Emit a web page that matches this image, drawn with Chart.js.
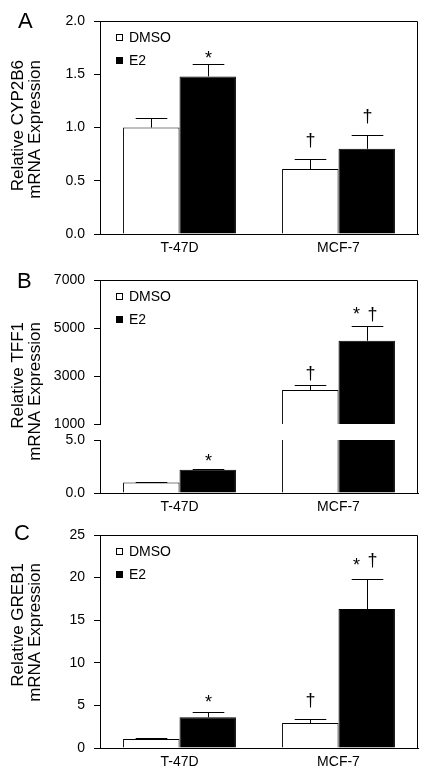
<!DOCTYPE html>
<html>
<head>
<meta charset="utf-8">
<script src="https://cdn.jsdelivr.net/npm/chart.js@4.4.1/dist/chart.umd.min.js"></script>
<style>
  body { margin: 0; background: #fff; width: 431px; height: 782px; position: relative; overflow: hidden;
         font-family: "Liberation Sans", Arial, Helvetica, sans-serif; }
  .panel { position: absolute; left: 0; width: 431px; height: 262px; }
  .letter { position: absolute; font-size: 22px; line-height: 22px; color: #000; }
</style>
</head>
<body>
<div class="panel" style="top:0"><canvas id="chartA" width="431" height="262"></canvas></div>
<div class="panel" style="top:259px"><canvas id="chartB" width="431" height="262"></canvas></div>
<div class="panel" style="top:514px"><canvas id="chartC" width="431" height="262"></canvas></div>
<div class="letter" style="left:18px;top:10px">A</div>
<div class="letter" style="left:17px;top:270px">B</div>
<div class="letter" style="left:14px;top:522px">C</div>
<script>
const FONT = "'Liberation Sans', Arial, Helvetica, sans-serif";
Chart.defaults.font.family = FONT;
Chart.defaults.color = '#000';
Chart.defaults.animation = false;

// shared
const groups = ['T-47D', 'MCF-7'];
const treatments = ['DMSO', 'E2'];
const fills = ['#ffffff', '#000000'];

// A - CYP2B6
const cypDmso = [1.00, 0.61];
const cypDmsoErr = [0.09, 0.09];
const cypE2 = [1.48, 0.80];
const cypE2Err = [0.12, 0.13];
const cypDmsoMarks = ['', '†'];
const cypE2Marks = ['*', '†'];
const cypTicks = [0, 0.5, 1.0, 1.5, 2.0];

// B - TFF1 (broken axis)
const tffDmso = [1.0, 2420];
const tffDmsoErr = [0.04, 195];
const tffE2 = [2.2, 4470];
const tffE2Err = [0.08, 610];
const tffDmsoMarks = ['', '†'];
const tffE2Marks = ['*', '*†'];
const tffLowTicks = [0, 2.5, 5.0];
const tffHighTicks = [1000, 3000, 5000, 7000];

// C - GREB1
const grebDmso = [1.05, 2.93];
const grebDmsoErr = [0.12, 0.47];
const grebE2 = [3.6, 16.3];
const grebE2Err = [0.65, 3.55];
const grebDmsoMarks = ['', '†'];
const grebE2Marks = ['*', '*†'];
const grebTicks = [0, 5, 10, 15, 20, 25];

// clip every dataset to its own y axis, then add error bars and significance marks
const errorBarPlugin = {
    id: 'errorBars',
    beforeDatasetDraw(chart, args) {
        const y = chart.scales[args.meta.yAxisID];
        const a = chart.chartArea;
        chart.ctx.save();
        chart.ctx.beginPath();
        chart.ctx.rect(a.left, y.top, a.right - a.left, y.bottom - y.top);
        chart.ctx.clip();
    },
    afterDatasetDraw(chart, args, opts) {
        const ctx = chart.ctx;
        const ds = chart.data.datasets[args.index];
        const y = chart.scales[args.meta.yAxisID];
        ctx.strokeStyle = '#000';
        ctx.fillStyle = '#000';
        ctx.lineWidth = 1;
        ctx.font = '18px ' + FONT;
        ctx.textAlign = 'center';
        ctx.textBaseline = 'alphabetic';
        args.meta.data.forEach((bar, i) => {
            const capY = Math.round(y.getPixelForValue(ds.data[i] + ds.errors[i])) + 0.5;
            const x = Math.round(bar.x) + 0.5;
            const half = bar.width * 0.28;
            ctx.beginPath();
            ctx.moveTo(x, bar.y);
            ctx.lineTo(x, capY);
            ctx.moveTo(x - half, capY);
            ctx.lineTo(x + half, capY);
            ctx.stroke();
            const m = ds.marks[i];
            if (m === '*') ctx.fillText('*', x, capY - opts.starGap);
            else if (m === '†') ctx.fillText('†', x, capY - opts.daggerGap);
            else if (m === '*†') {
                ctx.fillText('*', x - 11, capY - opts.starGap - 4);
                ctx.fillText('†', x + 5, capY - opts.daggerGap);
            }
        });
        ctx.restore();
    }
};

// top and right edges of the plot box
const framePlugin = {
    id: 'frame',
    afterDraw(chart) {
        const {ctx, chartArea: a} = chart;
        const t = Math.round(a.top) + 0.5;
        const r = Math.round(a.right) - 0.5;
        ctx.save();
        ctx.strokeStyle = '#000';
        ctx.lineWidth = 1;
        ctx.beginPath();
        ctx.moveTo(a.left - 0.5, t);
        ctx.lineTo(r, t);
        ctx.lineTo(r, a.bottom);
        ctx.stroke();
        ctx.restore();
    }
};

// legend drawn inside the plot, top left
const insideLegend = {
    id: 'insideLegend',
    afterDraw(chart, args, opts) {
        const {ctx, chartArea: a} = chart;
        const items = [];
        chart.data.datasets.forEach(ds => {
            if (!items.find(it => it.label === ds.label)) items.push(ds);
        });
        ctx.save();
        ctx.font = '14px ' + FONT;
        ctx.textBaseline = 'middle';
        ctx.textAlign = 'left';
        items.forEach((ds, i) => {
            const cy = Math.round(a.top + opts.top + i * 23);
            const bx = Math.round(a.left + 16);
            ctx.fillStyle = ds.backgroundColor;
            ctx.fillRect(bx, cy - 4, 7, 7);
            ctx.strokeStyle = '#000';
            ctx.lineWidth = 1;
            ctx.strokeRect(bx + 0.5, cy - 3.5, 6, 6);
            ctx.fillStyle = '#000';
            ctx.fillText(ds.label, a.left + 29, cy);
        });
        ctx.restore();
    }
};

// two-line rotated axis title, lines aligned at their top end
const sideTitle = {
    id: 'sideTitle',
    afterDraw(chart, args, opts) {
        const ctx = chart.ctx;
        ctx.save();
        ctx.font = '17px ' + FONT;
        ctx.fillStyle = '#000';
        ctx.textAlign = 'right';
        ctx.textBaseline = 'alphabetic';
        ctx.translate(23, opts.end);
        ctx.rotate(-Math.PI / 2);
        opts.lines.forEach((line, i) => ctx.fillText(line, 0, i * 17));
        ctx.restore();
    }
};

function barSet(idx, values, errors, marks, axisId) {
    return {
        label: treatments[idx],
        data: values,
        errors: errors,
        marks: marks,
        yAxisID: axisId,
        stack: treatments[idx],
        backgroundColor: fills[idx],
        borderColor: '#000',
        borderWidth: 1,
        borderSkipped: 'start',
        categoryPercentage: 0.71,
        barPercentage: 1.0
    };
}

function valueAxis(ticks, fmt, extra) {
    return Object.assign({
        type: 'linear',
        position: 'left',
        stacked: false,
        min: ticks[0],
        max: ticks[ticks.length - 1],
        afterBuildTicks: s => { s.ticks = ticks.map(v => ({ value: v })); },
        afterFit: s => { s.width = 100; },
        grid: { drawOnChartArea: false, drawTicks: true, tickLength: 6, color: '#000', lineWidth: 1 },
        border: { display: true, color: '#000', width: 1 },
        ticks: { padding: 9, font: { size: 14 }, color: '#000', callback: fmt }
    }, extra || {});
}

function groupAxis() {
    return {
        type: 'category',
        afterFit: s => { s.height = 28; },
        grid: { display: false, drawTicks: false },
        border: { display: true, color: '#000', width: 1 },
        ticks: { padding: 6, font: { size: 14 }, color: '#000', maxRotation: 0, autoSkip: false }
    };
}

function baseOptions(scales, titleLines, titleEnd, gaps) {
    return {
        responsive: false,
        devicePixelRatio: 1,
        animation: false,
        layout: { padding: { top: 21, right: 13, left: 0, bottom: 0 } },
        scales: scales,
        plugins: {
            legend: { display: false },
            tooltip: { enabled: false },
            errorBars: gaps,
            insideLegend: { top: 17 },
            sideTitle: { lines: titleLines, end: titleEnd }
        }
    };
}

const panelPlugins = [errorBarPlugin, framePlugin, insideLegend, sideTitle];

// Panel A
new Chart(document.getElementById('chartA'), {
    type: 'bar',
    data: {
        labels: groups,
        datasets: [
            barSet(0, cypDmso, cypDmsoErr, cypDmsoMarks, 'y'),
            barSet(1, cypE2, cypE2Err, cypE2Marks, 'y')
        ]
    },
    options: baseOptions({
        x: groupAxis(),
        y: valueAxis(cypTicks, v => v.toFixed(1))
    }, ['Relative CYP2B6', 'mRNA Expression'], 60, { starGap: 1, daggerGap: 14 }),
    plugins: panelPlugins
});

// Panel B: upper segment 1000-7000, lower segment 0-5
new Chart(document.getElementById('chartB'), {
    type: 'bar',
    data: {
        labels: groups,
        datasets: [
            barSet(0, tffDmso, tffDmsoErr, tffDmsoMarks, 'yHigh'),
            barSet(1, tffE2, tffE2Err, tffE2Marks, 'yHigh'),
            barSet(0, tffDmso, tffDmsoErr, tffDmsoMarks, 'yLow'),
            barSet(1, tffE2, tffE2Err, tffE2Marks, 'yLow')
        ]
    },
    options: baseOptions({
        x: groupAxis(),
        yHigh: valueAxis(tffHighTicks, v => String(v), { stack: 'tff', stackWeight: 144, weight: 3 }),
        yGap: {
            type: 'linear', position: 'left', stack: 'tff', stackWeight: 16, weight: 2,
            grid: { display: false }, border: { display: false }, ticks: { display: false },
            afterFit: s => { s.width = 100; }
        },
        yLow: valueAxis(tffLowTicks, v => v.toFixed(1), { stack: 'tff', stackWeight: 53, weight: 1 })
    }, ['Relative TFF1', 'mRNA Expression'], 63, { starGap: 3, daggerGap: 7 }),
    plugins: panelPlugins
});

// Panel C
new Chart(document.getElementById('chartC'), {
    type: 'bar',
    data: {
        labels: groups,
        datasets: [
            barSet(0, grebDmso, grebDmsoErr, grebDmsoMarks, 'y'),
            barSet(1, grebE2, grebE2Err, grebE2Marks, 'y')
        ]
    },
    options: baseOptions({
        x: groupAxis(),
        y: valueAxis(grebTicks, v => String(v))
    }, ['Relative GREB1', 'mRNA Expression'], 49, { starGap: 5, daggerGap: 14 }),
    plugins: panelPlugins
});
</script>
</body>
</html>
